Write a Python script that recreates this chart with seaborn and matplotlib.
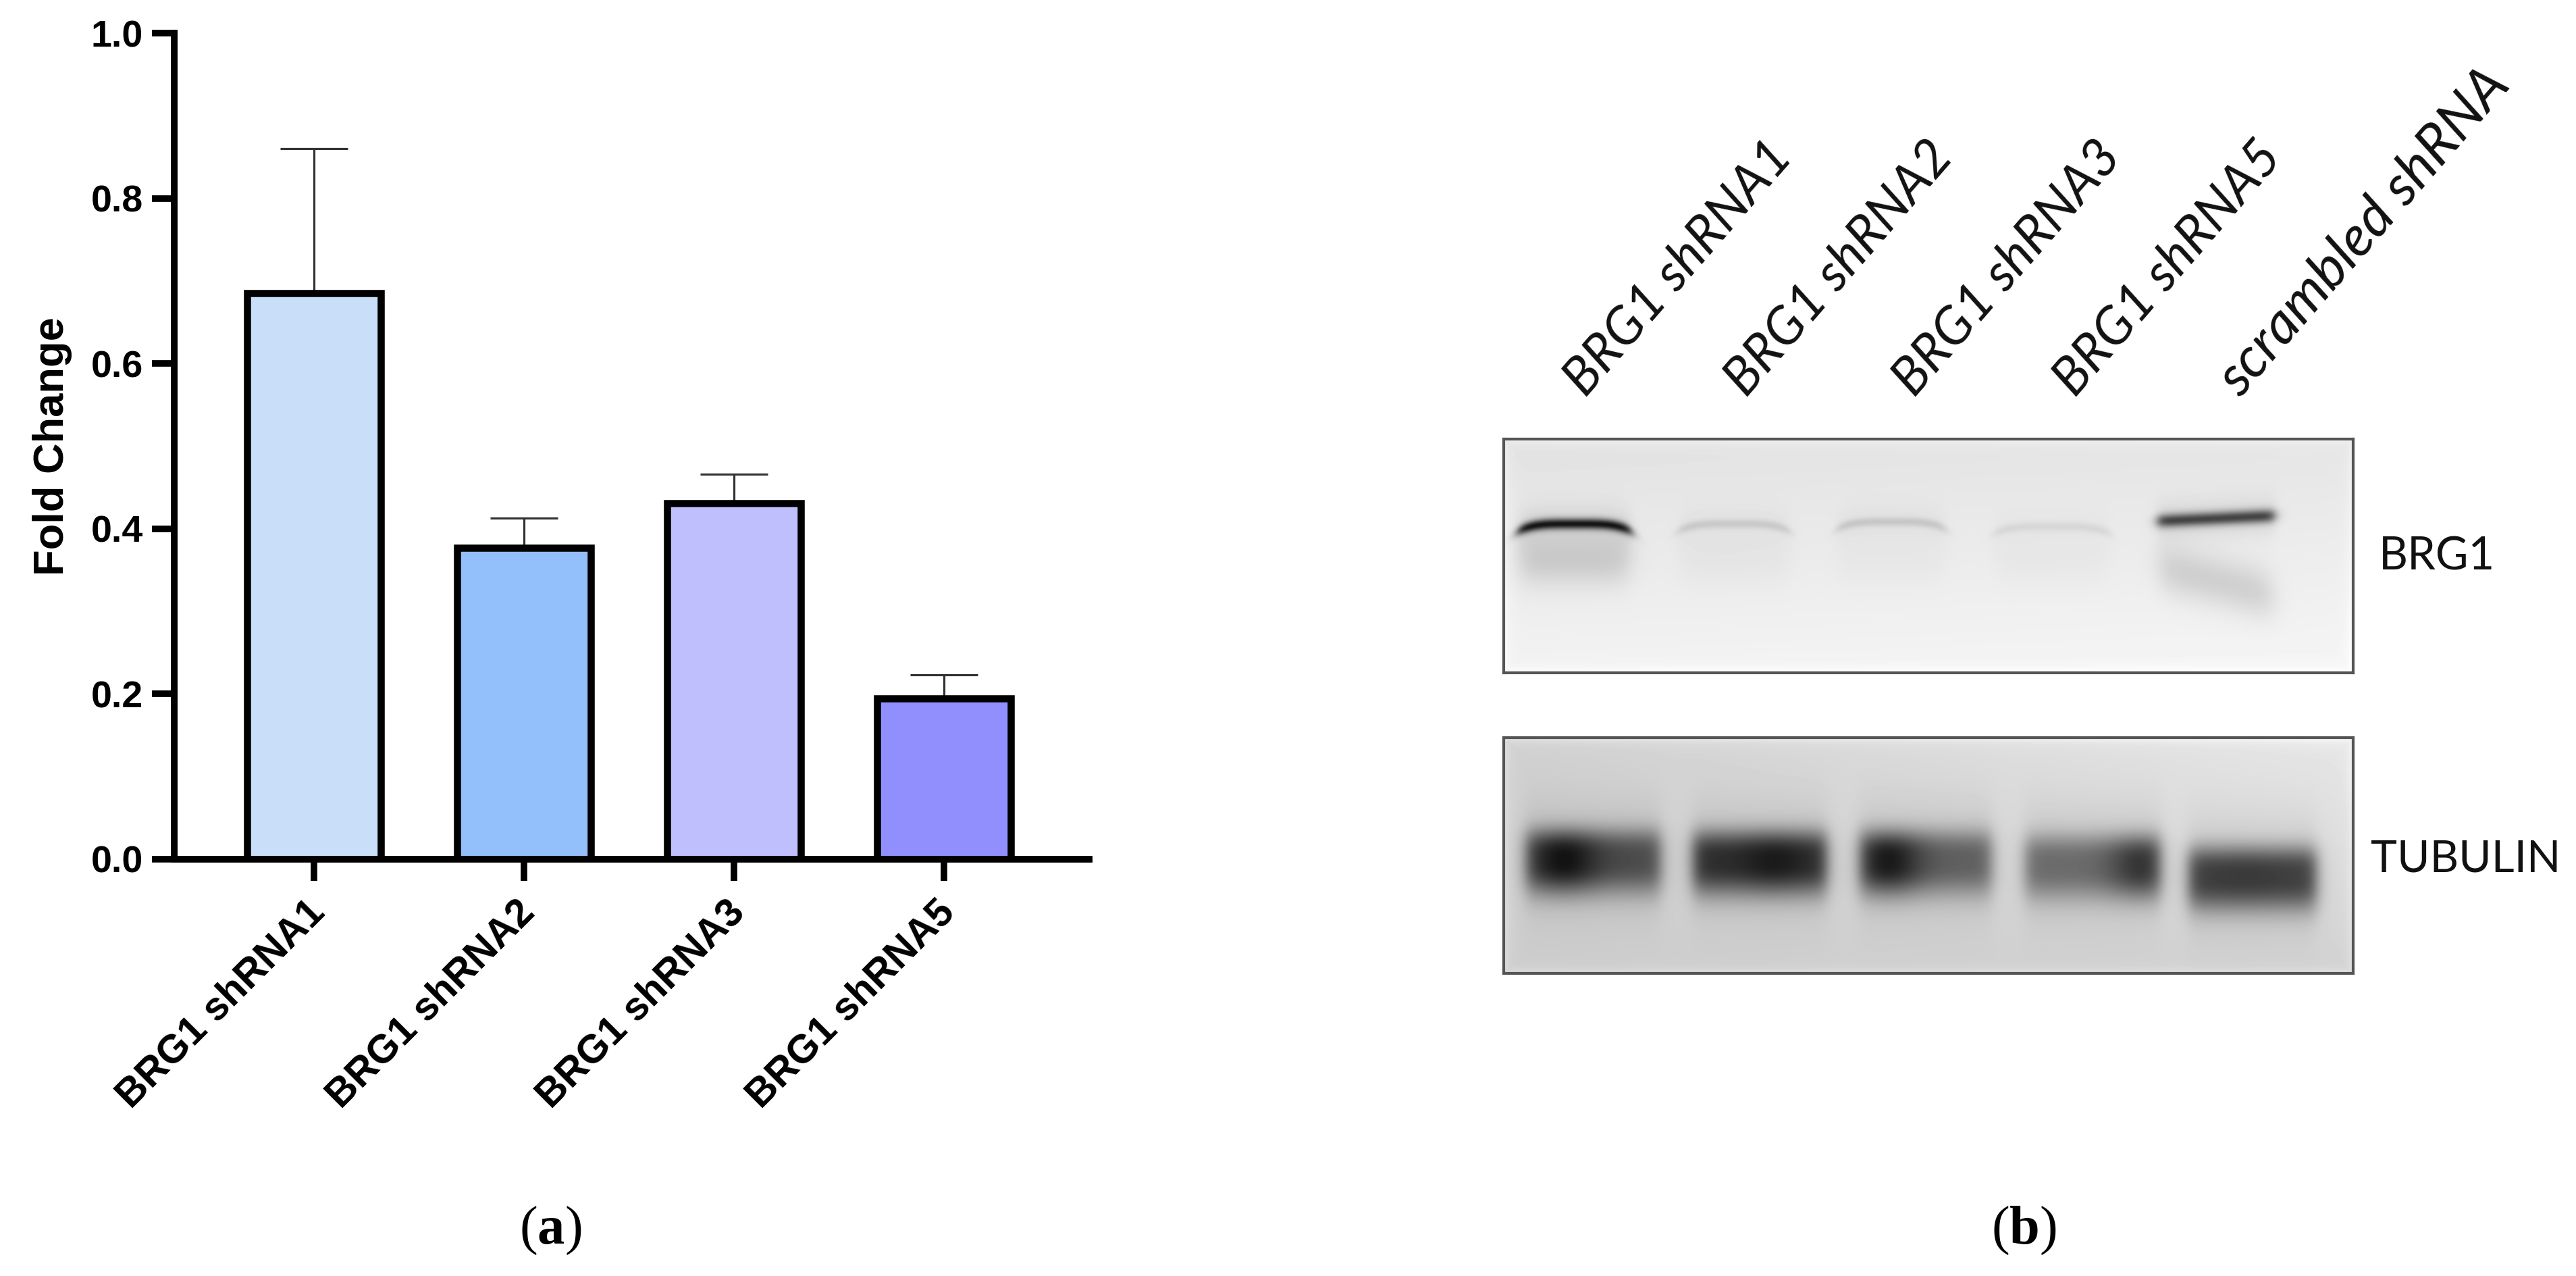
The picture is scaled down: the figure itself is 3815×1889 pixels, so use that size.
import numpy as np
import pandas as pd
import matplotlib
matplotlib.use("Agg")
import matplotlib.pyplot as plt
from matplotlib.transforms import ScaledTranslation
import seaborn as sns

W, H = 3816, 1889

# Panel (a) data
categories = ["BRG1 shRNA1", "BRG1 shRNA2", "BRG1 shRNA3", "BRG1 shRNA5"]
fold_change = [0.685, 0.377, 0.431, 0.195]
error_upper = [0.175, 0.036, 0.035, 0.028]
bar_colors = ["#C9DFF9", "#93BFFA", "#C0BFFD", "#918FFE"]
y_ticks = [0.0, 0.2, 0.4, 0.6, 0.8, 1.0]

# Panel (b) labels and band strengths, per lane, read from the blot
lane_labels = ["BRG1 shRNA1", "BRG1 shRNA2", "BRG1 shRNA3", "BRG1 shRNA5", "scrambled shRNA"]
brg1_band = [0.74, 0.10, 0.11, 0.06, 0.58]
brg1_smear = [0.13, 0.025, 0.02, 0.02, 0.12]
tubulin_band = [0.42, 0.54, 0.36, 0.32, 0.50]
tubulin_spot = [0.22, 0.08, 0.27, 0.22, 0.02]

# Blot geometry, in pixels inside each panel
BRG1_LANES = [(21, 188), (258, 423), (493, 654), (725, 898), (968, 1141)]
BRG1_Y = [(125, 125), (125, 125), (122, 122), (129, 129), (121, 113)]
BRG1_SMEAR_Y = [(178, 178), (180, 180), (180, 180), (180, 180), (188, 232)]
BRG1_SIG = [8, 7, 7, 7, 10]
TUB_LANES = [(32, 232), (280, 478), (526, 722), (772, 973), (1014, 1203)]
TUB_Y = [180, 182, 182, 188, 205]
TUB_SPOT_X = [89, 400, 569, 945, 1100]


def lane_mask(xx, x0, x1, soft=9.0):
    return 0.5 * (np.tanh((xx - x0) / soft) - np.tanh((xx - x1) / soft))


def edge_glow(xx, yy, w, h, amount):
    d = np.minimum.reduce([xx, w - xx, yy, h - yy])
    return amount * np.exp(-d / 7.0)


def brg1_image(w=1258, h=346):
    yy, xx = np.mgrid[0:h, 0:w].astype(float)
    img = 0.885 + 0.065 * yy / h + 0.012 * xx / w
    for i, (x0, x1) in enumerate(BRG1_LANES):
        m = lane_mask(xx, x0, x1)
        t = (xx - x0) / (x1 - x0)
        y0, y1 = BRG1_Y[i]
        arch = 44 * (t - 0.5) ** 4 * 16 / 4 if i < 4 else 0
        yc = y0 + (y1 - y0) * t + arch
        img -= brg1_band[i] * m * np.exp(-((yy - yc) / BRG1_SIG[i]) ** 2)
        img -= 0.07 * min(1, brg1_band[i] * 3) * m * np.exp(-((yy - yc) / 30.0) ** 2)
        s0, s1 = BRG1_SMEAR_Y[i]
        sc = s0 + (s1 - s0) * t
        soft_m = lane_mask(xx, x0 + 4, x1 - 4, soft=18.0)
        img -= brg1_smear[i] * soft_m * np.exp(-((yy - sc) / 38.0) ** 2)
    img += edge_glow(xx, yy, w, h, 0.06)
    return np.clip(img, 0, 1)


def tubulin_image(w=1258, h=349):
    yy, xx = np.mgrid[0:h, 0:w].astype(float)
    img = 0.815 + 0.07 * (xx / w) * (1 - yy / h) + 0.02 * (xx / w) - 0.015 * yy / h
    for i, (x0, x1) in enumerate(TUB_LANES):
        m = lane_mask(xx, x0, x1, soft=13.0)
        yc = TUB_Y[i]
        prof = np.where(yy < yc, np.exp(-(np.abs(yy - yc) / 44.0) ** 3),
                        np.exp(-(np.abs(yy - yc) / 50.0) ** 2.6))
        img -= tubulin_band[i] * m * prof
        img -= 0.10 * m * np.exp(-((yy - yc) / 78.0) ** 2)
        img -= tubulin_spot[i] * np.exp(-((xx - TUB_SPOT_X[i]) / 48.0) ** 2) * prof * m
    img += edge_glow(xx, yy, w, h, 0.08)
    return np.clip(img, 0, 1)


def axes_px(fig, x0, y0, x1, y1):
    return fig.add_axes([x0 / W, 1 - y1 / H, (x1 - x0) / W, (y1 - y0) / H])


sns.set_theme(style="white")
plt.rcParams["font.family"] = ["Liberation Sans", "DejaVu Sans"]
plt.rcParams["mathtext.fontset"] = "custom"
plt.rcParams["mathtext.rm"] = "Liberation Serif"
plt.rcParams["mathtext.bf"] = "Liberation Serif:bold"

fig = plt.figure(figsize=(W / 100, H / 100), dpi=100, facecolor="white")

# ---------- panel (a)
ax = axes_px(fig, 258, 49, 1613, 1272)
df = pd.DataFrame({"group": categories, "value": fold_change})
sns.barplot(data=df, x="group", y="value", hue="group", palette=bar_colors,
            saturation=1, width=0.635, edgecolor="black", linewidth=7.6,
            errorbar=None, legend=False, ax=ax, zorder=3)
ax.errorbar(range(len(categories)), fold_change,
            yerr=[np.zeros(len(categories)), error_upper], fmt="none",
            ecolor="#333333", elinewidth=2.3, capsize=36, capthick=2.3, zorder=2)
ax.set_xlim(-0.666, 3.691)
ax.set_ylim(0, 1)
ax.set_yticks(y_ticks)
ax.set_yticklabels([f"{v:.1f}" for v in y_ticks], fontweight="bold", fontsize=40)
ax.set_xlabel("")
ax.set_ylabel("")
ax.tick_params(axis="y", length=24, width=7, pad=9, color="black", labelcolor="black", left=True)
ax.tick_params(axis="x", length=23, width=7, color="black", bottom=True)
ax.set_xticks(range(len(categories)))
ax.set_xticklabels(categories, rotation=45, ha="right", rotation_mode="anchor",
                   fontweight="bold", fontsize=42.5, color="black")
shift = ScaledTranslation(-12 / 100, -14 / 100, fig.dpi_scale_trans)
for lab in ax.get_xticklabels():
    lab.set_transform(lab.get_transform() + shift)
sns.despine(ax=ax)
for side in ("left", "bottom"):
    ax.spines[side].set_linewidth(7.2)
    ax.spines[side].set_color("black")
    ax.spines[side].set_zorder(5)
fig.text(78 / W, 1 - 661 / H, "Fold Change", rotation=90, ha="center", va="center",
         fontweight="bold", fontsize=45.5, color="black")

# ---------- panel (b)
for img, box in ((brg1_image(), (2227, 650, 3485, 996)),
                 (tubulin_image(), (2227, 1092, 3485, 1441))):
    b = axes_px(fig, *box)
    b.imshow(img, cmap="gray", vmin=0, vmax=1, aspect="auto", interpolation="bilinear")
    b.set_xticks([])
    b.set_yticks([])
    for s in b.spines.values():
        s.set_visible(True)
        s.set_color("#555555")
        s.set_linewidth(3.0)

label_font = ["Lato", "DejaVu Sans"]
lane_text_x = [2348, 2586, 2835, 3073, 3318]
lane_text_size = [55.5, 55.5, 55.5, 55.5, 60]
for x, lab, size in zip(lane_text_x, lane_labels, lane_text_size):
    fig.text(x / W, 1 - 590 / H, lab, rotation=49, rotation_mode="anchor",
             ha="left", va="baseline", style="italic", family=label_font,
             fontsize=size, color="#111111")
fig.text(3523 / W, 1 - 824 / H, "BRG1", ha="left", va="center", family=label_font,
         fontsize=48, color="#111111")
fig.text(3511 / W, 1 - 1272 / H, "TUBULIN", ha="left", va="center", family=label_font,
         fontsize=47.5, color="#111111")

fig.text(815 / W, 1 - 1822 / H, r"$\mathrm{(}\mathbf{a}\mathrm{)}$", ha="center", va="center",
         fontsize=58, color="black")
fig.text(2997 / W, 1 - 1822 / H, r"$\mathrm{(}\mathbf{b}\mathrm{)}$", ha="center", va="center",
         fontsize=58, color="black")

fig.savefig("out.png", dpi=100, facecolor="white")
